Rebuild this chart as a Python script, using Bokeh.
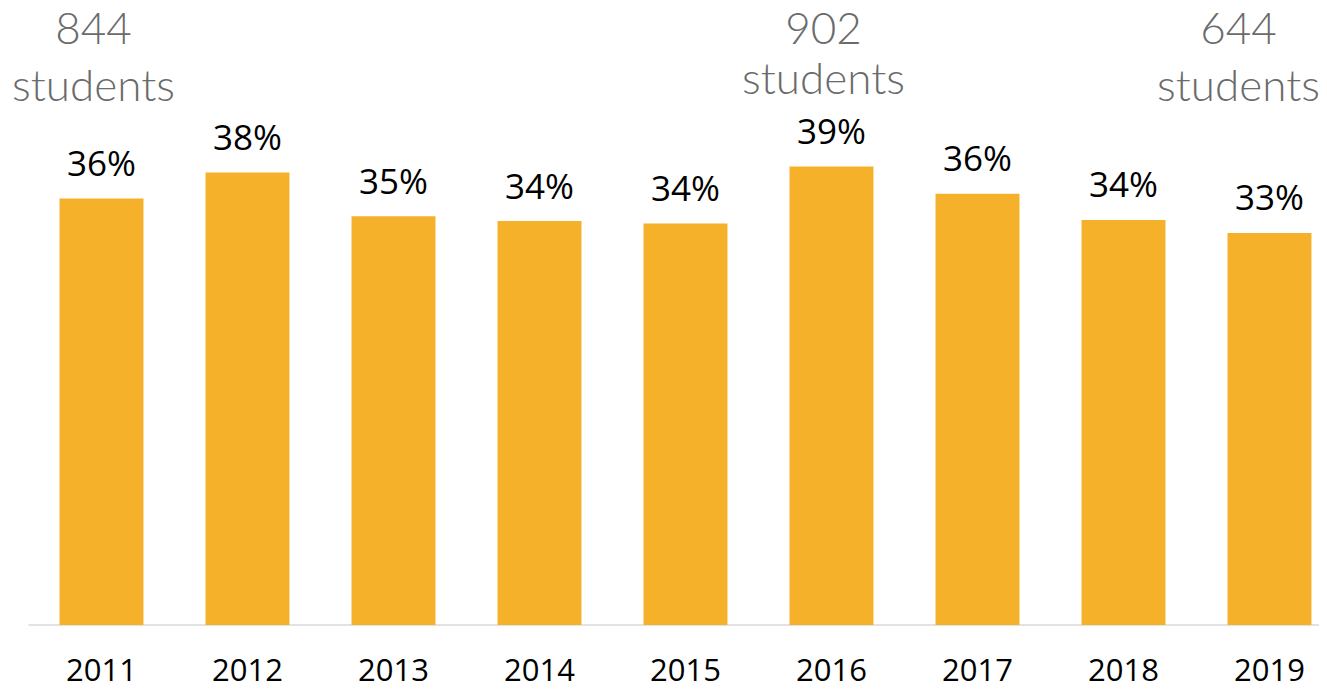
from bokeh.plotting import figure
from bokeh.models import ColumnDataSource, Range1d
from bokeh.core.properties import value
from bokeh.embed import file_html
from bokeh.resources import INLINE

years = ["2011", "2012", "2013", "2014", "2015", "2016", "2017", "2018", "2019"]
shares = [36.0, 38.2, 34.5, 34.1, 33.9, 38.7, 36.4, 34.2, 33.1]
share_labels = ["36%", "38%", "35%", "34%", "34%", "39%", "36%", "34%", "33%"]
note_years = ["2011", "2016", "2019"]
note_counts = ["844", "902", "644"]

idx = list(range(len(years)))
src = ColumnDataSource(dict(x=idx, top=shares, lab=share_labels, year=years))

W, H = 1319, 690
px_per_cat = 146.0
px_per_pct = 11.845
x0_px = 101.0      # centre of first category
base_px = 624.5    # baseline
xs = -x0_px / px_per_cat
ys = -(H - base_px) / px_per_pct
p = figure(width=W, height=H, output_backend="svg", toolbar_location=None,
           x_range=Range1d(xs, xs + W / px_per_cat),
           y_range=Range1d(ys, ys + H / px_per_pct),
           min_border=0, x_axis_type=None, y_axis_type=None)
p.outline_line_color = None
p.xgrid.visible = False
p.ygrid.visible = False
p.background_fill_color = "white"

# baseline
p.segment(x0=[-0.5], y0=[0], x1=[xs + W / px_per_cat], y1=[0],
          line_color="#e2e2e2", line_width=2)

p.vbar(x="x", top="top", bottom=0, width=0.575, source=src,
       fill_color="#F6B12B", line_color=None)

shift = -15  # empirical baseline correction
p.text(x="x", y="top", text="lab", source=src, text_align="center",
       text_baseline="alphabetic", y_offset=-21 + shift,
       text_font=value("Open Sans"), text_font_size="35px", text_color="#000000")

p.text(x="x", y=0, text="year", source=src, text_align="center",
       text_baseline="alphabetic", y_offset=60 + shift,
       text_font=value("Open Sans"), text_font_size="31px", text_color="#000000")

# student count notes
note_x = [years.index(y) for y in note_years]
note_dx = [-8, -8, -31]
note_dy2 = [-2, -9, -2]
for xi, cnt, dx, dy in zip(note_x, note_counts, note_dx, note_dy2):
    p.text(x=[xi], y=[0], text=[cnt], x_offset=dx, y_offset=43 - base_px + shift,
           text_align="center", text_baseline="alphabetic",
           text_font=value("Lato Light"), text_font_size="44px", text_color="#6b6b6b")
    p.text(x=[xi], y=[0], text=["students"], x_offset=dx, y_offset=100 + dy - base_px + shift,
           text_align="center", text_baseline="alphabetic",
           text_font=value("Lato Light"), text_font_size="44px", text_color="#6b6b6b")

open("out.html", "w").write(file_html(p, INLINE))
